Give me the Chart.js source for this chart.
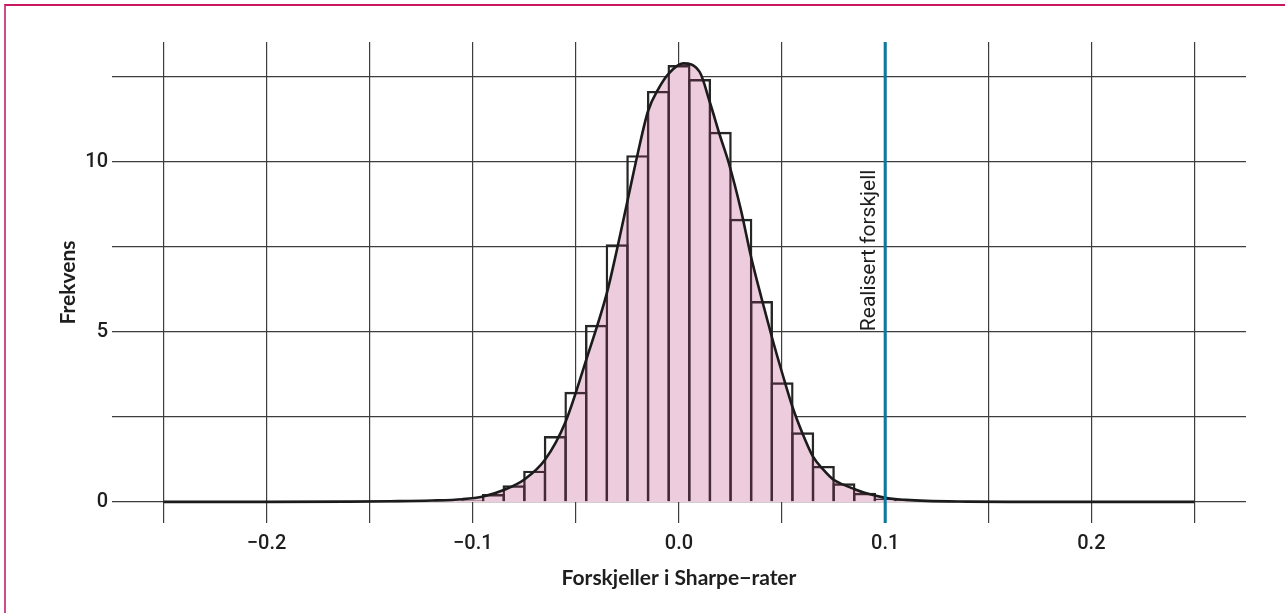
<!DOCTYPE html>
<html>
<head>
<meta charset="utf-8">
<script src="https://cdn.jsdelivr.net/npm/chart.js@4/dist/chart.umd.min.js"></script>
<style>
  html, body { margin: 0; padding: 0; background: #fff; }
  #wrap { position: relative; width: 1285px; height: 613px; overflow: hidden; }
  #frame {
    position: absolute; left: 4px; top: 4px; right: -10px; bottom: -10px;
    border-top: 2px solid #c8175f; border-left: 2px solid #d04a8e;
  }
  #chart { position: absolute; left: 0; top: 0; }
</style>
</head>
<body>
<div id="wrap">
  <div id="frame"></div>
  <canvas id="chart" width="1285" height="613"></canvas>
</div>
<script>
'use strict';

// ─── Data ───────────────────────────────────────────────────────────────────
// histogram: bin centres (width 0.01) and heights (density)
const binCenters = [
  -0.24, -0.23, -0.22, -0.21, -0.20, -0.19, -0.18, -0.17, -0.16, -0.15, -0.14, -0.13,
  -0.12, -0.11, -0.10, -0.09, -0.08, -0.07, -0.06, -0.05, -0.04, -0.03, -0.02, -0.01,
  0.00, 0.01, 0.02, 0.03, 0.04, 0.05, 0.06, 0.07, 0.08, 0.09, 0.10, 0.11, 0.12,
  0.13, 0.14, 0.15, 0.16, 0.17, 0.18, 0.19, 0.20, 0.21, 0.22, 0.23, 0.24,
];
const binHeights = [
  0, 0, 0, 0, 0, 0, 0, 0, 0, 0, 0, 0,
  0.01, 0.02, 0.05, 0.23, 0.49, 0.92, 1.94, 3.24, 5.21, 7.58, 10.2, 12.09,
  12.85, 12.44, 10.89, 8.33, 5.91, 3.52, 2.05, 1.06, 0.55, 0.27, 0.10, 0.04, 0.01,
  0, 0, 0, 0, 0, 0, 0, 0, 0, 0, 0, 0,
];

// smoothed density curve
const densityX = [
  -0.25, -0.20, -0.16, -0.14, -0.12, -0.105, -0.095, -0.085, -0.075, -0.065, -0.055,
  -0.045, -0.035, -0.030, -0.025, -0.020, -0.015, -0.010, -0.005, 0.002, 0.010,
  0.015, 0.020, 0.024, 0.030, 0.035, 0.040, 0.045, 0.050, 0.055, 0.060, 0.065,
  0.070, 0.075, 0.080, 0.085, 0.090, 0.095, 0.100, 0.110, 0.120, 0.140, 0.160, 0.200, 0.250,
];
const densityY = [
  0, 0, 0.01, 0.02, 0.04, 0.08, 0.16, 0.35, 0.66, 1.24, 2.36,
  4.18, 6.14, 7.45, 8.85, 10.25, 11.5, 12.15, 12.6, 12.9, 12.65,
  11.75, 10.75, 10.0, 8.6, 7.2, 6.0, 4.86, 3.8, 2.8, 2.0, 1.33,
  0.95, 0.65, 0.5, 0.38, 0.27, 0.19, 0.12, 0.06, 0.03, 0.01, 0, 0, 0,
];

const realisedDiff  = 0.1;
const realisedLabel = 'Realisert forskjell';
const realisedLabelAt = 7.4;   // y value where the label is centred

const xTickValues = [-0.25, -0.20, -0.15, -0.10, -0.05, 0.00, 0.05, 0.10, 0.15, 0.20, 0.25];
const xTickLabels = ['', '\u22120.2', '', '\u22120.1', '', '0.0', '', '0.1', '', '0.2', ''];
const yTickValues = [0, 2.5, 5, 7.5, 10, 12.5];
const yTickLabels = ['0', '', '5', '', '10', ''];

const xTitle = 'Forskjeller i Sharpe\u2212rater';
const yTitle = 'Frekvens';

// ─── Styles ─────────────────────────────────────────────────────────────────
const GRID   = '#3d3d3d';
const TEXT   = '#1e1e1e';
const PINK   = '#f6ecf2';
const TINT   = 'rgba(200,60,130,0.18)';
const OUTL   = '#262626';
const TEAL   = '#0b78a0';
const tickFont  = { family: 'Roboto, "Liberation Sans", sans-serif', size: 20, weight: 500 };
const titleFont = { family: 'Lato, "Open Sans", sans-serif', size: 21, weight: 'bold' };

const densityPts = densityX.map((x, i) => ({ x, y: densityY[i] }));

const realisedLine = {
  id: 'realisedLine',
  afterDatasetsDraw(chart) {
    const { ctx, chartArea, scales } = chart;
    const px = scales.x.getPixelForValue(realisedDiff);
    ctx.save();
    ctx.strokeStyle = TEAL;
    ctx.lineWidth = 3;
    ctx.beginPath();
    ctx.moveTo(px, chartArea.top);
    ctx.lineTo(px, chartArea.bottom);
    ctx.stroke();
    ctx.translate(px - 10, scales.y.getPixelForValue(realisedLabelAt));
    ctx.rotate(-Math.PI / 2);
    ctx.font = '21px Roboto, sans-serif';
    ctx.fillStyle = TEXT;
    ctx.textAlign = 'center';
    ctx.textBaseline = 'alphabetic';
    ctx.fillText(realisedLabel, 0, 0);
    ctx.restore();
  },
};

new Chart(document.getElementById('chart'), {
  type: 'line',
  data: {
    datasets: [
      { // opaque base under the density, hides grid
        type: 'line', data: densityPts, order: 3,
        borderWidth: 0, pointRadius: 0, fill: 'origin',
        backgroundColor: PINK, cubicInterpolationMode: 'monotone',
      },
      { // histogram outlines
        type: 'bar', data: binCenters.map((x, i) => ({ x, y: binHeights[i] })), order: 2,
        backgroundColor: 'rgba(0,0,0,0)', borderColor: OUTL, borderWidth: 2.4,
        borderSkipped: 'start', barPercentage: 1.116, categoryPercentage: 1,
      },
      { // density curve + tint
        type: 'line', data: densityPts, order: 1,
        borderColor: '#1b1b1b', borderWidth: 2.6, pointRadius: 0, fill: 'origin',
        backgroundColor: TINT, cubicInterpolationMode: 'monotone',
      },
    ],
  },
  options: {
    responsive: false,
    animation: false,
    events: [],
    layout: { padding: { left: 0, top: 42, right: 39, bottom: 0 } },
    plugins: { legend: { display: false }, tooltip: { enabled: false } },
    scales: {
      x: {
        type: 'linear', min: -0.275, max: 0.275, offset: false,
        afterBuildTicks: s => { s.ticks = xTickValues.map(v => ({ value: v })); },
        afterFit: s => { s.height = 90; },
        grid: { color: GRID, lineWidth: 1.2, drawTicks: false, offset: false },
        border: { display: false },
        ticks: {
          padding: 9, color: TEXT, font: tickFont, maxRotation: 0, autoSkip: false,
          callback: (v, i) => xTickLabels[i],
        },
        title: { display: true, text: xTitle, color: TEXT, font: titleFont, padding: { top: 0, bottom: 22 } },
      },
      y: {
        type: 'linear', min: -0.62, max: 13.53,
        afterBuildTicks: s => { s.ticks = yTickValues.map(v => ({ value: v })); },
        afterFit: s => { s.width = 112; },
        grid: { color: GRID, lineWidth: 1.2, drawTicks: false },
        border: { display: false },
        ticks: {
          padding: 4, color: TEXT, font: tickFont,
          callback: (v, i) => yTickLabels[i],
        },
        title: { display: true, text: yTitle, color: TEXT, font: titleFont, padding: { top: 56, bottom: 0 } },
      },
    },
  },
  plugins: [realisedLine],
});
</script>
</body>
</html>
